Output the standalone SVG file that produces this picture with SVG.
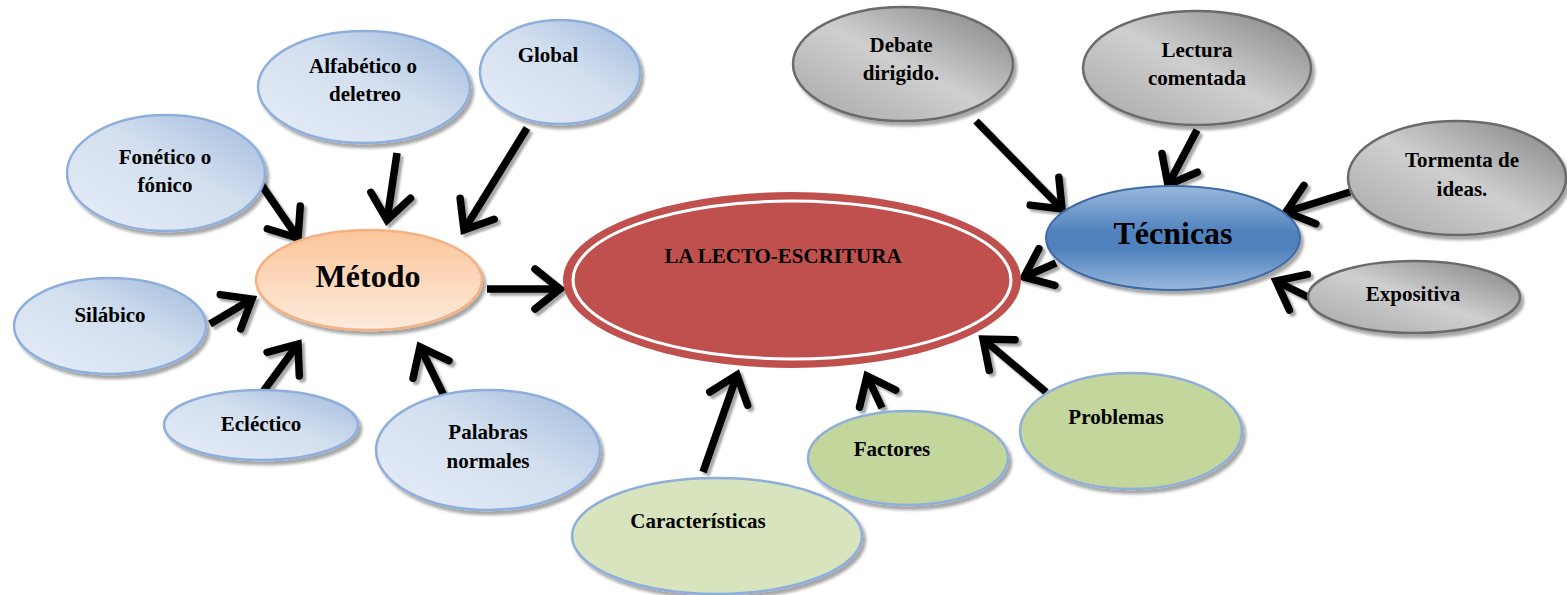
<svg xmlns="http://www.w3.org/2000/svg" width="1567" height="595" viewBox="0 0 1567 595">
<defs>
<linearGradient id="gBlue" x1="1" y1="0" x2="0" y2="1">
<stop offset="0" stop-color="#9fb9dc"/><stop offset="0.45" stop-color="#d3dfef"/><stop offset="1" stop-color="#e6edf7"/>
</linearGradient>
<linearGradient id="gGray" x1="1" y1="0" x2="0" y2="1">
<stop offset="0" stop-color="#7f7f7f"/><stop offset="0.5" stop-color="#cfcfcf"/><stop offset="1" stop-color="#a6a6a6"/>
</linearGradient>
<linearGradient id="gOrange" x1="0" y1="0" x2="0" y2="1">
<stop offset="0" stop-color="#fbc59a"/><stop offset="1" stop-color="#fdebdc"/>
</linearGradient>
<linearGradient id="gTec" x1="0" y1="0" x2="0" y2="1">
<stop offset="0" stop-color="#9ab8dd"/><stop offset="0.45" stop-color="#4f81bd"/><stop offset="0.6" stop-color="#4f81bd"/><stop offset="1" stop-color="#9ab8dd"/>
</linearGradient>
<filter id="sh" x="-20%" y="-20%" width="140%" height="140%">
<feDropShadow dx="3" dy="4" stdDeviation="1.5" flood-color="#000" flood-opacity="0.35"/>
</filter>
<filter id="ash" x="-20%" y="-20%" width="140%" height="140%">
<feDropShadow dx="3" dy="3" stdDeviation="1" flood-color="#000" flood-opacity="0.35"/>
</filter>
<marker id="arr" markerUnits="userSpaceOnUse" viewBox="-30 -25 34 50" refX="0" refY="0" markerWidth="34" markerHeight="50" orient="auto" overflow="visible">
<path d="M-25,-20 L0,0 L-25,20" fill="none" stroke="#000" stroke-width="7.5" stroke-linecap="round" stroke-linejoin="miter"/>
</marker>
<style>
.t{font-family:"Liberation Serif","Times New Roman",serif;font-weight:bold;font-size:21px;fill:#000;text-anchor:middle}
.big{font-size:32px}
.blue{fill:url(#gBlue);stroke:#8eaedb;stroke-width:2.5;filter:url(#sh)}
.gray{fill:url(#gGray);stroke:#6b6b6b;stroke-width:2.5;filter:url(#sh)}
.green1{fill:#d7e4bd;stroke:#8eaedb;stroke-width:2.5;filter:url(#sh)}
.green2{fill:#c3d69b;stroke:#8eaedb;stroke-width:2.5;filter:url(#sh)}
.c{fill:none;stroke:#000;stroke-width:7.5;marker-end:url(#arr)}
</style>
</defs>
<rect width="1567" height="595" fill="#fff"/>

<g id="connectors" filter="url(#ash)">
<line class="c" x1="258" y1="180" x2="298" y2="238"/>
<line class="c" x1="397" y1="153" x2="387" y2="220"/>
<line class="c" x1="527" y1="128" x2="464" y2="230"/>
<line class="c" x1="210" y1="324" x2="252" y2="299"/>
<line class="c" x1="262" y1="393" x2="298" y2="344"/>
<line class="c" x1="445" y1="398" x2="420" y2="347"/>
<line class="c" x1="487" y1="289" x2="560" y2="289"/>
<line class="c" x1="703" y1="472" x2="737" y2="375"/>
<line class="c" x1="882" y1="408" x2="867" y2="376"/>
<line class="c" x1="1046" y1="392" x2="983" y2="339"/>
<line class="c" x1="1056" y1="263" x2="1024" y2="277"/>
<line class="c" x1="976" y1="121" x2="1062" y2="209"/>
<line class="c" x1="1197" y1="130" x2="1168" y2="185"/>
<line class="c" x1="1350" y1="192" x2="1286" y2="212"/>
<line class="c" x1="1310" y1="298" x2="1276" y2="281"/>
</g>

<g id="global"><ellipse class="blue" cx="560" cy="72" rx="80" ry="52"/><text class="t" x="548" y="62">Global</text></g>
<g id="alfabetico"><ellipse class="blue" cx="364" cy="87" rx="106" ry="56"/><text class="t" x="363" y="73">Alfabético o</text><text class="t" x="365" y="101">deletreo</text></g>
<g id="fonetico"><ellipse class="blue" cx="166" cy="173" rx="99" ry="58"/><text class="t" x="165" y="164">Fonético o</text><text class="t" x="165" y="192">fónico</text></g>
<g id="silabico"><ellipse class="blue" cx="110" cy="326" rx="96" ry="48"/><text class="t" x="110" y="322">Silábico</text></g>
<g id="metodo"><ellipse cx="369" cy="280" rx="113" ry="50" fill="url(#gOrange)" stroke="#f4b183" stroke-width="2.5" filter="url(#sh)"/><text class="t big" x="368" y="287">Método</text></g>
<g id="eclectico"><ellipse class="blue" cx="261" cy="425" rx="97" ry="35"/><text class="t" x="261" y="431">Ecléctico</text></g>
<g id="palabras"><ellipse class="blue" cx="488" cy="450" rx="112" ry="60"/><text class="t" x="488" y="439">Palabras</text><text class="t" x="488" y="468">normales</text></g>

<g id="lecto">
<ellipse cx="792" cy="280" rx="229" ry="88" fill="#c0504d"/>
<ellipse cx="792" cy="280" rx="219" ry="79" fill="none" stroke="#fff" stroke-width="3"/>
<text class="t" x="783" y="263">LA LECTO-ESCRITURA</text>
</g>

<g id="caracteristicas"><ellipse class="green1" cx="717" cy="536" rx="145" ry="58"/><text class="t" x="698" y="528">Características</text></g>
<g id="factores"><ellipse class="green2" cx="908" cy="458" rx="100" ry="47"/><text class="t" x="892" y="456">Factores</text></g>
<g id="problemas"><ellipse class="green2" cx="1131" cy="431" rx="111" ry="58"/><text class="t" x="1116" y="424">Problemas</text></g>

<g id="tecnicas"><ellipse cx="1173" cy="238" rx="127" ry="52" fill="url(#gTec)" stroke="#3f6ba3" stroke-width="2" filter="url(#sh)"/><text class="t big" x="1173" y="244">Técnicas</text></g>
<g id="debate"><ellipse class="gray" cx="903" cy="64" rx="110" ry="57"/><text class="t" x="901" y="52">Debate</text><text class="t" x="901" y="80">dirigido.</text></g>
<g id="lectura"><ellipse class="gray" cx="1197" cy="68" rx="114" ry="57"/><text class="t" x="1197" y="57">Lectura</text><text class="t" x="1197" y="85">comentada</text></g>
<g id="tormenta"><ellipse class="gray" cx="1457" cy="178" rx="109" ry="57"/><text class="t" x="1462" y="167">Tormenta de</text><text class="t" x="1462" y="196">ideas.</text></g>
<g id="expositiva"><ellipse class="gray" cx="1414" cy="297" rx="106" ry="36"/><text class="t" x="1413" y="301">Expositiva</text></g>
</svg>
